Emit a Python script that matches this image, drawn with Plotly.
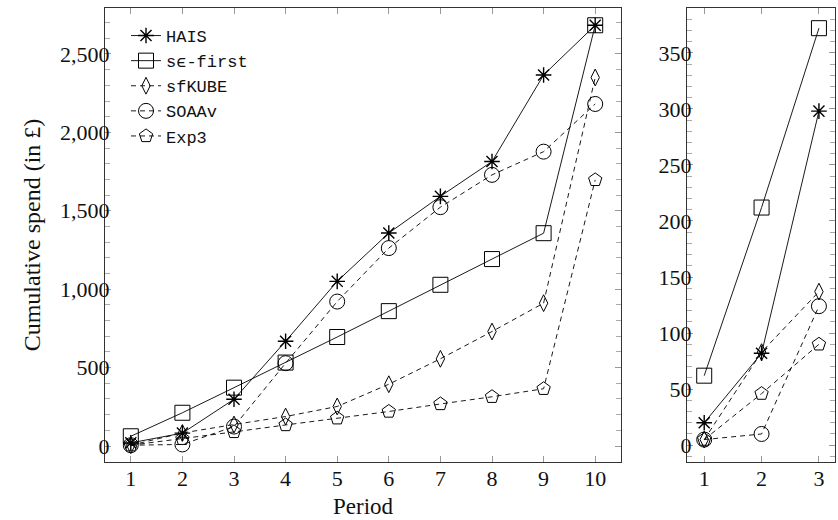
import plotly.graph_objects as go

periods = [1, 2, 3, 4, 5, 6, 7, 8, 9, 10]
hais = [20, 82, 298, 668, 1050, 1358, 1592, 1814, 2366, 2683]
se_first = [62, 212, 372, 532, 695, 860, 1028, 1192, 1357, 2683]
sfkube = [5, 83, 137, 188, 252, 394, 556, 730, 911, 2350]
soaav = [5, 10, 124, 528, 921, 1262, 1523, 1729, 1877, 2181]
exp3 = [5, 46, 90, 134, 177, 220, 268, 314, 365, 1697]

zoom_periods = periods[:3]

names = ["HAIS", "s\u03f5-first", "sfKUBE", "SOAAv", "Exp3"]
series = [hais, se_first, sfkube, soaav, exp3]
symbols = ["asterisk-open", "square-open", "diamond-tall-open", "circle-open", "pentagon-open"]
sizes = [13, 15, 12, 15, 14]
dashes = ["solid", "solid", "5px,4px", "5px,4px", "5px,4px"]

fig = go.Figure()
for name, ys, sym, sz, dsh in zip(names, series, symbols, sizes, dashes):
    fig.add_trace(go.Scatter(
        x=periods, y=ys, name=name, mode="lines+markers",
        line=dict(color="black", width=0.9, dash=dsh),
        marker=dict(symbol=sym, size=sz, color="black",
                    line=dict(color="black", width=1 if sym != "asterisk-open" else 1.4)),
        xaxis="x", yaxis="y", showlegend=True,
    ))
for name, ys, sym, sz, dsh in zip(names, series, symbols, sizes, dashes):
    fig.add_trace(go.Scatter(
        x=zoom_periods, y=ys[:3], name=name, mode="lines+markers",
        line=dict(color="black", width=0.9, dash=dsh),
        marker=dict(symbol=sym, size=sz, color="black",
                    line=dict(color="black", width=1 if sym != "asterisk-open" else 1.4)),
        xaxis="x2", yaxis="y2", showlegend=False,
    ))

serif = "Liberation Serif"
axis_common = dict(
    showgrid=False, zeroline=False, showline=True, linecolor="#333", linewidth=1.2,
    mirror="allticks", ticks="inside", tickcolor="#999", ticklen=6, tickwidth=1,
    tickfont=dict(family=serif, size=22, color="#111"),
)

fig.update_layout(
    width=838, height=520,
    margin=dict(l=0, r=0, t=0, b=0),
    paper_bgcolor="white", plot_bgcolor="white",
    xaxis=dict(domain=[105/838, 621/838], range=[0.5, 10.5], tickvals=periods,
               ticklabelstandoff=-4,
               title=dict(text="Period", font=dict(family=serif, size=23, color="#111"), standoff=8),
               anchor="y", **axis_common),
    yaxis=dict(domain=[1-462/520, 1-8/520], range=[-102, 2793], tickvals=[0, 500, 1000, 1500, 2000, 2500],
               tickformat=",d", ticklabelstandoff=-10,
               minor=dict(dtick=100, ticks="inside", ticklen=5, tickcolor="#aaa", tickwidth=1),
               title=dict(text="Cumulative spend (in \u00a3)", font=dict(family=serif, size=24, color="#111"), standoff=12),
               anchor="x", **axis_common),
    xaxis2=dict(domain=[687/838, 835/838], range=[0.7, 3.28], tickvals=zoom_periods,
                ticklabelstandoff=-4,
                anchor="y2", **axis_common),
    yaxis2=dict(domain=[1-462/520, 1-8/520], range=[-15, 390], tickvals=[0, 50, 100, 150, 200, 250, 300, 350],
                ticklabelstandoff=-10,
                minor=dict(dtick=10, ticks="inside", ticklen=5, tickcolor="#aaa", tickwidth=1),
                anchor="x2", **axis_common),
    legend=dict(x=126/838, y=1-18/520, xanchor="left", yanchor="top",
                bgcolor="rgba(0,0,0,0)", borderwidth=0,
                font=dict(family="Liberation Mono", size=17, color="#111"),
                tracegroupgap=0, itemwidth=30),
)

fig.write_html("out.html")
